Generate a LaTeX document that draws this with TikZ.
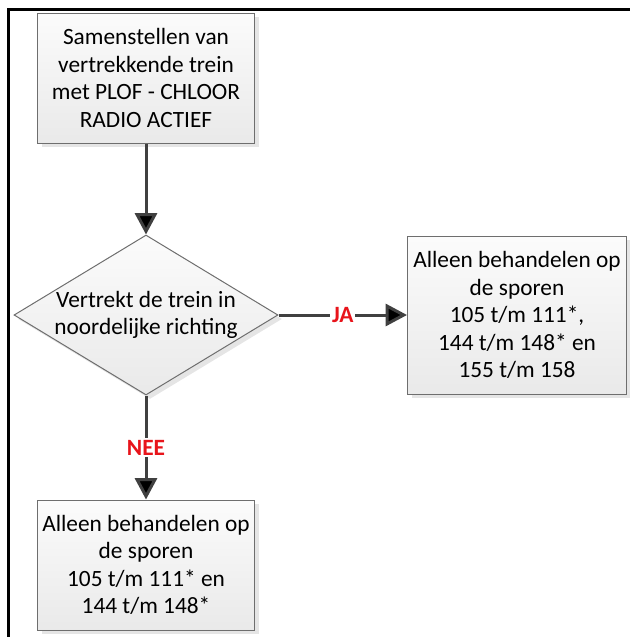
\documentclass[tikz,border=0pt]{standalone}
\usepackage{fontspec}
\setmainfont{Carlito}
\usetikzlibrary{positioning,shapes.geometric,shadows,arrows.meta}
\definecolor{randgrijs}{HTML}{6E6E6E}
\definecolor{pijlgrijs}{HTML}{404040}
\definecolor{antwrood}{HTML}{E8141B}

\begin{document}
\begin{tikzpicture}[on grid,
  stap/.style={rectangle,draw=randgrijs,line width=0.75pt,top color=gray!3,bottom color=gray!17,
    drop shadow={shadow xshift=3pt,shadow yshift=-3pt,fill=gray!45,opacity=0.45},
    align=center,font=\fontsize{17.5}{20.6}\selectfont,inner sep=0pt},
  keuze/.style={diamond,aspect=1.65,draw=randgrijs,line width=0.75pt,top color=gray!3,bottom color=gray!17,
    drop shadow={shadow xshift=3pt,shadow yshift=-3pt,fill=gray!45,opacity=0.45},
    align=center,font=\fontsize{17.5}{20.6}\selectfont,inner sep=0pt,
    minimum width=198pt,minimum height=120pt},
  pijl/.style={draw=pijlgrijs,line width=2.25pt,-{Triangle[length=16pt,width=16.5pt]}},
  antw/.style={fill=white,text=antwrood,font=\fontsize{17.5}{20}\selectfont\bfseries,inner sep=1.5pt}]
  \useasboundingbox (0,0) rectangle (472.5pt,-477.75pt);
  % kader
  \draw[line width=2.25pt] (472.5pt,-6.75pt) -- (6pt,-6.75pt) -- (6pt,-477.75pt);

  \node[stap,minimum width=162.75pt,minimum height=97.5pt] (start) at (109.5pt,-58.5pt)
    {Samenstellen van\\vertrekkende trein\\met PLOF - CHLOOR\\RADIO ACTIEF};
  \node[keuze] (noord) [below=177.75pt of start] {Vertrekt de trein in\\noordelijke richting};
  \node[stap,minimum width=164.25pt,minimum height=118.5pt] (ja) [right=278.25pt of noord]
    {Alleen behandelen op\\de sporen\\105 t/m 111*,\\144 t/m 148* en\\155 t/m 158};
  \node[stap,minimum width=162.75pt,minimum height=97.5pt] (nee) [below=187.5pt of noord]
    {Alleen behandelen op\\de sporen\\105 t/m 111* en\\144 t/m 148*};

  \path[pijl]
    (start) edge (noord)
    (noord) edge node[antw] {JA} (ja)
    (noord) edge node[antw] {NEE} (nee);
\end{tikzpicture}
\end{document}
